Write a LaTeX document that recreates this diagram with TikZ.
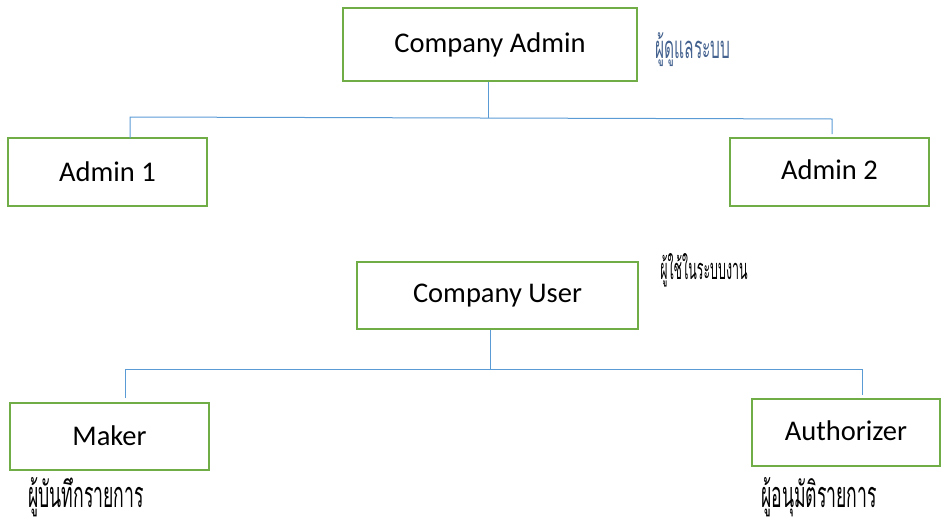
\documentclass[tikz,border=0pt]{standalone}
\usepackage{fontspec}
\setmainfont{Carlito}
\newfontfamily\thaifont[Script=Thai]{Loma}
\definecolor{boxgreen}{HTML}{70AD47}
\definecolor{linkblue}{HTML}{5B9BD5}
\definecolor{notegray}{HTML}{44628F}
\newcommand\narrowthai[2]{\scalebox{#1}[1]{#2}}
\tikzset{
    rolebox/.style={draw=boxgreen, line width=2.5pt, fill=white, inner sep=0pt,
        font=\fontsize{28.5}{32}\selectfont},
    link/.style={draw=linkblue, line width=1pt},
    thainote/.style={inner sep=0pt, font=\thaifont\fontsize{#1}{#1}\selectfont},
    thainote/.default=40
}
\begin{document}
\begin{tikzpicture}[x=1pt, y=-1pt]
    \useasboundingbox (0,0) rectangle (942,525);
    % boxes
    \node[rolebox, minimum width=294pt, minimum height=73pt] (cadmin) at (490,44.5) {\raisebox{1pt}{Company Admin}};
    \node[rolebox, minimum width=199pt, minimum height=68pt] (admina) at (107.5,172) {\raisebox{1pt}{Admin 1}};
    \node[rolebox, minimum width=199pt, minimum height=68pt] (adminb) at (829.5,172) {\raisebox{4pt}{Admin 2}};
    \node[rolebox, minimum width=281pt, minimum height=67pt] (cuser) at (497.5,295.5) {Company User};
    \node[rolebox, minimum width=199pt, minimum height=67pt] (maker) at (109.5,436.5) {\raisebox{2pt}{Maker}};
    \node[rolebox, minimum width=188pt, minimum height=67pt] (author) at (846,432.5) {\raisebox{3pt}{Authorizer}};
    % thai notes
    \node[thainote=31, text=notegray] (noteadmin) at (693,50) {\narrowthai{0.5}{ผู้ดูแลระบบ}};
    \node[thainote=29] (noteuser) at (704,270) {\narrowthai{0.43}{ผู้ใช้ในระบบงาน}};
    \node[thainote=36] (notemaker) at (86,497) {\narrowthai{0.49}{ผู้บันทึกรายการ}};
    \node[thainote=36] (noteauthor) at (819,497) {\narrowthai{0.49}{ผู้อนุมัติรายการ}};
    % bus points
    \coordinate (busa) at (488,118);
    \coordinate (busal) at (130,117);
    \coordinate (busar) at (832,119);
    \coordinate (tipal) at (130,138);
    \coordinate (tipar) at (832,134);
    \coordinate (busb) at (490,369);
    \coordinate (busbl) at (125,369);
    \coordinate (busbr) at (862,369);
    \coordinate (tipbl) at (125,398);
    \coordinate (tipbr) at (862,395);
    % connectors
    \draw[link] (cadmin.south -| busa) -- (busa);
    \draw[link] (tipal) -- (busal) -- (busar) -- (tipar);
    \draw[link] (cuser.south -| busb) -- (busb);
    \draw[link] (tipbl) -- (busbl) -- (busbr) -- (tipbr);
\end{tikzpicture}
\end{document}
